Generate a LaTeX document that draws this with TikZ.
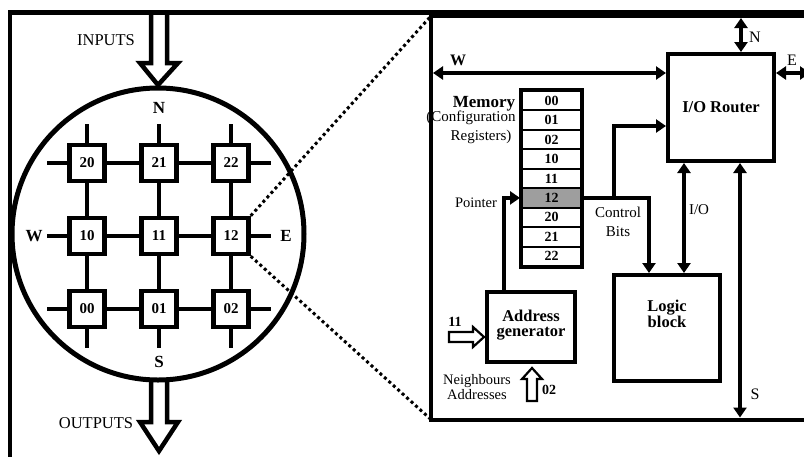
\documentclass[tikz,border=0pt]{standalone}
\usepackage{fontspec}
\setmainfont{Liberation Serif}
\usetikzlibrary{arrows.meta}
\newcommand\fsz[1]{\fontsize{#1}{#1}\selectfont}

\begin{document}
\begin{tikzpicture}[x=1pt,y=-1pt,
  tile/.style={draw,line width=4.5pt,fill=white,minimum width=35pt,minimum height=36pt,inner sep=0pt,font=\fsz{15}\bfseries},
  cell/.style={draw,line width=2pt,minimum width=59pt,minimum height=19.44pt,inner sep=0pt,font=\fsz{14}\bfseries},
  block/.style={draw,line width=4pt,inner sep=0pt},
  wire/.style={line width=3.2pt},
  bus/.style={line width=4.5pt},
  tip/.style={-{Triangle[length=10pt,width=13pt]}},
  dtip/.style={{Triangle[length=10pt,width=13pt]}-{Triangle[length=10pt,width=13pt]}},
  bigarrow/.style={draw,line width=4.5pt,fill=white,line join=miter,miter limit=10},
  smallarrow/.style={draw,line width=2.2pt,fill=white,line join=miter,miter limit=10},
  dots/.style={line width=3pt,dash pattern=on 3pt off 3pt},
  txt/.style={inner sep=0pt,font=\fsz{15}},
  btxt/.style={inner sep=0pt,font=\fsz{16.5}\bfseries,align=center},
]
\useasboundingbox (0,0) rectangle (804,456);

% ---------------- array of cells ----------------
\coordinate (cc) at (158,234);

% input / output flows
\draw[bigarrow] (151,12) -- (151,63) -- (140,63) -- ([yshift=3pt]cc |- 0,88) -- (178,63) -- (167,63) -- (167,12);
\draw[bigarrow] (151,380) -- (151,422) -- (140,422) -- (159,451) -- (178,422) -- (167,422) -- (167,380);
\node[txt,font=\fsz{16.5}] (inlbl) at (106,40) {INPUTS};
\node[txt,font=\fsz{16.5}] (outlbl) at (96,423) {OUTPUTS};

\node[draw,circle,line width=5pt,minimum size=292pt,inner sep=0pt] (chip) at (cc) {};

% 3x3 grid of tiles
\foreach \r/\y in {2/163,1/236,0/309}{
  \foreach \c/\x in {0/87,1/159,2/231}{
    \node[tile] (t\r\c) at (\x,\y) {\r\c};
  }
}
\foreach \r in {0,1,2}{
  \draw[wire] (t\r0) -- (t\r1);
  \draw[wire] (t\r1) -- (t\r2);
  \draw[wire] (t\r0.west) -- ++(-20,0);
  \draw[wire] (t\r2.east) -- ++(20,0);
}
\foreach \c in {0,1,2}{
  \draw[wire] (t2\c) -- (t1\c);
  \draw[wire] (t1\c) -- (t0\c);
  \draw[wire] (t2\c.north) -- ++(0,-19);
  \draw[wire] (t0\c.south) -- ++(0,19);
}
\node[btxt,font=\fsz{17}\bfseries] (gN) at (159,108) {N};
\node[btxt,font=\fsz{17}\bfseries] (gS) at (159,362) {S};
\node[btxt,font=\fsz{17}\bfseries] (gW) at (34,236) {W};
\node[btxt,font=\fsz{17}\bfseries] (gE) at (286,236) {E};

% zoom lines to the cell detail
\coordinate (pTL) at (431,16);
\coordinate (pBL) at (431,419.5);
\draw[dots] (t12.north east) -- (pTL);
\draw[dots] (t12.south east) -- (pBL);

% ---------------- frames ----------------
\draw[line width=4pt] (10,12) -- (10,462);
\draw[line width=5pt] (8,12.5) -- (806,12.5);
\draw[line width=4pt] (806,16) -- (pTL) -- (pBL) -- (806,419.5);

% ---------------- cell detail ----------------
\node[block,minimum width=106pt,minimum height=107pt,font=\fsz{16.5}\bfseries] (router) at (721,107.5) {I/O Router};
\node[block,minimum width=88pt,minimum height=70pt] (addr) at (531,327) {};
\node[btxt] (addrtxt) at (531,325) {Address\\[-1pt]generator};
\node[block,minimum width=106pt,minimum height=106pt] (logic) at (667,328) {};
\node[btxt] (logictxt) at (667,314) {Logic\\[-1pt]block};

% configuration memory
\foreach \n [count=\i from 0] in {00,01,02,10,11,12,20,21,22}{
  \node[cell] (m\n) at (551.5,{100.7+19.44*\i}) {\n};
}
\node[cell,fill=black!38] (m12) at (551.5,197.9) {12};
\draw[line width=4pt] (m00.north west) rectangle (m22.south east);
\node[btxt,font=\fsz{17}\bfseries] (memlbl) at (484,104) {Memory};
\node[txt] (cfglbl) at (471,118) {(Configuration};
\node[txt] (reglbl) at (481,137) {Registers)};

% router ports
\coordinate (nx) at (741,18);
\draw[wire,dtip] (nx) -- (nx |- router.north);
\node[txt,font=\fsz{16}] (rN) at (755,37) {N};
\coordinate (wl) at (433,73);
\draw[wire,dtip] (wl) -- (wl -| router.west);
\node[txt,font=\fsz{16}\bfseries] (rW) at (458,60) {W};
\coordinate (er) at (810,73);
\draw[wire,dtip] (router.east |- er) -- (er);
\node[txt,font=\fsz{16}] (rE) at (792,60) {E};
\coordinate (sx) at (740,417.5);
\draw[wire,dtip] (sx |- router.south) -- (sx);
\node[txt,font=\fsz{16}] (rS) at (755,394) {S};

% pointer from the address generator
\coordinate (px) at (504,0);
\draw[wire,tip] (px |- addr.north) |- ([xshift=-1pt]m12.west);
\node[txt,font=\fsz{14.5}] (ptrlbl) at (476,203) {Pointer};

% control bits to the logic block and the router
\coordinate (cbx) at (649,0);
\coordinate (brx) at (614,126);
\draw[wire,tip] (m12.east) -| (cbx |- logic.north);
\draw[wire,tip] (brx |- m12.east) -- (brx) -- (brx -| router.west);
\node[txt] (ctl1) at (618,212) {Control};
\node[txt] (ctl2) at (618,232) {Bits};

% router <-> logic
\coordinate (iox) at (684,0);
\draw[bus,dtip] (iox |- router.south) -- (iox |- logic.north);
\node[txt] (iolbl) at (699,210) {I/O};

% address inputs
\draw[smallarrow] ([xshift=-1pt,yshift=-10pt]addr.west) -- ++(-11,-10) -- ++(0,5) -- ++(-24,0) -- ++(0,10) -- ++(24,0) -- ++(0,5) -- cycle;
\node[txt,font=\fsz{14}\bfseries] (in11) at (455,322) {11};
\draw[smallarrow] ([xshift=1pt,yshift=-4pt]addr.south) -- ++(-10,11) -- ++(5,0) -- ++(0,22) -- ++(10,0) -- ++(0,-22) -- ++(5,0) -- cycle;
\node[txt,font=\fsz{14}\bfseries] (in02) at (549,390) {02};
\node[txt,font=\fsz{14.5},align=center] (nbr) at (477,387) {Neighbours\\[1pt]Addresses};
\end{tikzpicture}
\end{document}
